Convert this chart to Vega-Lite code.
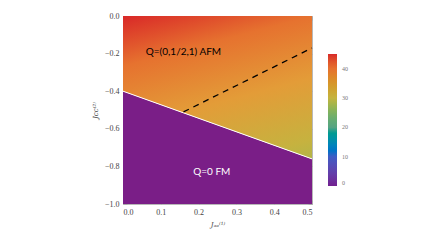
{
  "$schema": "https://vega.github.io/schema/vega-lite/v6.json",
  "width": 189,
  "height": 188,
  "autosize": {"type": "none"},
  "padding": {"left": 123, "top": 16, "right": 124, "bottom": 41},
  "background": "white",
  "config": {
    "view": {"stroke": "#b8b8b8", "strokeWidth": 1},
    "axis": {
      "labelFont": "Liberation Serif",
      "labelFontSize": 8,
      "labelColor": "#444",
      "titleFont": "DejaVu Serif",
      "titleFontStyle": "italic",
      "titleFontWeight": "normal",
      "titleFontSize": 7,
      "titleColor": "#444",
      "domain": false,
      "grid": false,
      "tickColor": "#aaa",
      "tickSize": -4,
      "labelPadding": 8
    }
  },
  "resolve": {"axis": {"x": "independent", "y": "independent"}},
  "datasets": {
    "afm": [{"jx": 0, "top": 0, "bottom": -0.4}, {"jx": 0.5, "top": 0, "bottom": -0.76}],
    "fm": [{"jx": 0, "top": -0.4, "bottom": -1}, {"jx": 0.5, "top": -0.76, "bottom": -1}],
    "dash": [{"jx": 0.16, "jy": -0.51}, {"jx": 0.5, "jy": -0.17}],
    "labels": [
      {"jx": 0.16, "jy": -0.19, "t": "Q=(0,1/2,1) AFM", "c": "black"},
      {"jx": 0.235, "jy": -0.83, "t": "Q=0 FM", "c": "white"}
    ],
    "leg": [{"jx": 0, "jy": 0, "v": 0}, {"jx": 0, "jy": 0, "v": 45}]
  },
  "layer": [
    {
      "data": {"name": "fm"},
      "mark": {"type": "area", "color": "#7a1e87", "opacity": 1},
      "encoding": {
        "x": {"field": "jx", "type": "quantitative", "scale": {"domain": [0, 0.5], "nice": false, "zero": false},
          "axis": {"orient": "bottom", "values": [0, 0.1, 0.2, 0.3, 0.4, 0.5], "format": ".1f", "title": "Jₐₐ⁽¹⁾", "titlePadding": 4}},
        "y": {"field": "top", "type": "quantitative", "scale": {"domain": [-1, 0], "nice": false, "zero": false},
          "axis": {"orient": "left", "values": [-1, -0.8, -0.6, -0.4, -0.2, 0], "format": ".1f", "title": "Jcc⁽²⁾", "titlePadding": 6}},
        "y2": {"field": "bottom"}
      }
    },
    {
      "data": {"name": "afm"},
      "mark": {
        "type": "area",
        "opacity": 1,
        "color": {
          "gradient": "linear",
          "x1": 0, "y1": 0, "x2": 0.422, "y2": 1.203,
          "stops": [
            {"offset": 0, "color": "#d92828"},
            {"offset": 0.26, "color": "#e6722f"},
            {"offset": 0.58, "color": "#e39c38"},
            {"offset": 0.9, "color": "#c6b23f"},
            {"offset": 1, "color": "#b3b548"}
          ]
        }
      },
      "encoding": {
        "x": {"field": "jx", "type": "quantitative",
          "axis": {"orient": "top", "values": [0, 0.1, 0.2, 0.3, 0.4, 0.5], "labels": false, "title": null}},
        "y": {"field": "top", "type": "quantitative",
          "axis": {"orient": "right", "values": [-1, -0.8, -0.6, -0.4, -0.2, 0], "labels": false, "title": null}},
        "y2": {"field": "bottom"}
      }
    },
    {
      "data": {"name": "afm"},
      "mark": {"type": "line", "color": "white", "strokeWidth": 1},
      "encoding": {
        "x": {"field": "jx", "type": "quantitative", "axis": null},
        "y": {"field": "bottom", "type": "quantitative", "axis": null}
      }
    },
    {
      "data": {"name": "dash"},
      "mark": {"type": "line", "color": "black", "strokeWidth": 1.3, "strokeDash": [6, 5]},
      "encoding": {
        "x": {"field": "jx", "type": "quantitative", "axis": null},
        "y": {"field": "jy", "type": "quantitative", "axis": null}
      }
    },
    {
      "data": {"name": "labels"},
      "mark": {"type": "text", "font": "Lato", "fontSize": 10, "align": "center", "baseline": "middle"},
      "encoding": {
        "x": {"field": "jx", "type": "quantitative", "axis": null},
        "y": {"field": "jy", "type": "quantitative", "axis": null},
        "text": {"field": "t"},
        "color": {"field": "c", "type": "nominal", "scale": null, "legend": null}
      }
    },
    {
      "data": {"name": "leg"},
      "mark": {"type": "point", "opacity": 0},
      "encoding": {
        "x": {"field": "jx", "type": "quantitative", "axis": null},
        "y": {"field": "jy", "type": "quantitative", "axis": null},
        "fill": {"field": "v", "type": "quantitative",
          "scale": {"domain": [0, 10, 20, 30, 40, 45], "range": ["#72208f", "#3e5cc4", "#56a383", "#c4b43f", "#e6712f", "#d8292a"]},
          "legend": {
            "orient": "none", "legendX": 205, "legendY": 38, "direction": "vertical",
            "gradientLength": 132, "gradientThickness": 9, "gradientStrokeWidth": 0,
            "title": null, "values": [0, 10, 20, 30, 40],
            "labelFont": "Liberation Serif", "labelFontSize": 6, "labelColor": "#777", "labelOffset": 5
          }
        }
      }
    }
  ]
}
